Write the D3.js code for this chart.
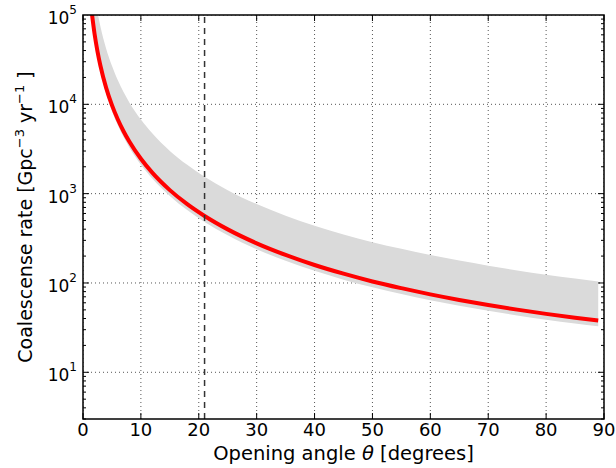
<!DOCTYPE html>
<html>
<head>
<meta charset="utf-8">
<script src="https://cdn.jsdelivr.net/npm/d3@7"></script>
<style>
  body { margin: 0; background: #fff; }
  svg { font-family: "DejaVu Sans", sans-serif; }
</style>
</head>
<body>
<div id="chart"></div>
<script>
'use strict';

/* values */
var theta = [1.5, 2, 2.5, 3, 4, 5, 6, 7, 8, 10, 12, 15, 18, 21, 25, 30, 35, 40, 45, 50, 55, 60, 65, 70, 75, 80, 85, 89];
var rate = [108800, 61200, 39200, 27200, 15300, 9800, 6810, 5000, 3830, 2455, 1707, 1095, 762, 562, 398, 278, 206, 159, 127, 104, 87.5, 74.6, 64.6, 56.7, 50.3, 45.1, 40.9, 38.0];
var rateHigh = [299000, 168000, 108000, 74800, 42000, 27000, 18700, 13700, 10500, 6750, 4700, 3010, 2100, 1545, 1095, 765, 567, 437, 349, 286, 241, 205, 178, 156, 138, 124, 112, 104];
var rateLow = [93600, 52600, 33700, 23400, 13200, 8430, 5860, 4300, 3290, 2110, 1470, 942, 655, 483, 342, 239, 177, 137, 109, 89.4, 75.3, 64.2, 55.6, 48.8, 43.3, 38.8, 35.2, 32.7];
var xTicks = [0, 10, 20, 30, 40, 50, 60, 70, 80, 90];
var yTicks = [1, 2, 3, 4, 5]; // exponents
var jetAngle = 21;

var width = 616;
var height = 468;
var margin = {left: 83, right: 12, top: 15, bottom: 49};

var x = d3.scaleLinear().domain([0, 90]).range([margin.left, width - margin.right]);
var y = d3.scaleLog().domain([3, 1e5]).range([height - margin.bottom, margin.top]);

var svg = d3.select('#chart')
  .append('svg')
  .attr('width', width)
  .attr('height', height);

svg.append('clipPath')
  .attr('id', 'clip')
  .append('rect')
  .attr('x', x(0))
  .attr('y', y(1e5))
  .attr('width', x(90) - x(0))
  .attr('height', y(3) - y(1e5));

var plot = svg.append('g').attr('clip-path', 'url(#clip)');

/* grid */
xTicks.forEach(function(t) {
  plot.append('line')
    .attr('x1', x(t)).attr('x2', x(t))
    .attr('y1', y(3)).attr('y2', y(1e5))
    .attr('stroke', '#555').attr('stroke-width', 1)
    .attr('stroke-dasharray', '1,3');
});
yTicks.forEach(function(e) {
  plot.append('line')
    .attr('x1', x(0)).attr('x2', x(90))
    .attr('y1', y(Math.pow(10, e))).attr('y2', y(Math.pow(10, e)))
    .attr('stroke', '#555').attr('stroke-width', 1)
    .attr('stroke-dasharray', '1,3');
});

var pts = theta.map(function(t, i) {
  return {t: t, mid: rate[i], hi: rateHigh[i], lo: rateLow[i]};
});

/* shaded band */
var area = d3.area()
  .x(function(d) { return x(d.t); })
  .y0(function(d) { return y(d.lo); })
  .y1(function(d) { return y(d.hi); })
  .curve(d3.curveMonotoneX);

plot.append('path')
  .datum(pts)
  .attr('d', area)
  .attr('fill', '#dadada');

/* red curve */
var line = d3.line()
  .x(function(d) { return x(d.t); })
  .y(function(d) { return y(d.mid); })
  .curve(d3.curveMonotoneX);

plot.append('path')
  .datum(pts)
  .attr('d', line)
  .attr('fill', 'none')
  .attr('stroke', '#ff0000')
  .attr('stroke-width', 4);

/* dashed vertical line */
plot.append('line')
  .attr('x1', x(jetAngle)).attr('x2', x(jetAngle))
  .attr('y1', y(3)).attr('y2', y(1e5))
  .attr('stroke', '#333').attr('stroke-width', 1.5)
  .attr('stroke-dasharray', '6,5');

/* ticks, inside, on all four sides */
var ticks = svg.append('g').attr('stroke', '#000').attr('stroke-width', 1);
xTicks.forEach(function(t) {
  ticks.append('line').attr('x1', x(t)).attr('x2', x(t)).attr('y1', y(3)).attr('y2', y(3) - 6);
  ticks.append('line').attr('x1', x(t)).attr('x2', x(t)).attr('y1', y(1e5)).attr('y2', y(1e5) + 6);
});
for (var e = 0; e <= 4; e++) {
  for (var m = 1; m <= 9; m++) {
    var v = m * Math.pow(10, e);
    if (v < 3 || v > 1e5) continue;
    var len = m === 1 ? 6 : 3;
    ticks.append('line').attr('x1', x(0)).attr('x2', x(0) + len).attr('y1', y(v)).attr('y2', y(v));
    ticks.append('line').attr('x1', x(90)).attr('x2', x(90) - len).attr('y1', y(v)).attr('y2', y(v));
  }
}

/* frame */
svg.append('rect')
  .attr('x', x(0)).attr('y', y(1e5))
  .attr('width', x(90) - x(0)).attr('height', y(3) - y(1e5))
  .attr('fill', 'none').attr('stroke', '#000').attr('stroke-width', 1.5);

/* tick labels */
xTicks.forEach(function(t) {
  svg.append('text')
    .attr('x', x(t)).attr('y', y(3) + 17)
    .attr('text-anchor', 'middle')
    .attr('font-size', 18)
    .text(t);
});
yTicks.forEach(function(e) {
  var txt = svg.append('text')
    .attr('x', 77).attr('y', y(Math.pow(10, e)) + 9)
    .attr('text-anchor', 'end')
    .attr('font-size', 17);
  txt.append('tspan').text('10');
  txt.append('tspan').attr('dy', -10).attr('font-size', 12).text(e);
});

/* axis titles */
var xl = svg.append('text')
  .attr('x', (x(0) + x(90)) / 2).attr('y', 460)
  .attr('text-anchor', 'middle')
  .attr('font-size', 19.5);
xl.append('tspan').text('Opening angle ');
xl.append('tspan').attr('font-style', 'italic').text('θ');
xl.append('tspan').text(' [degrees]');

var yl = svg.append('text')
  .attr('transform', 'translate(32,' + ((y(3) + y(1e5)) / 2) + ') rotate(-90)')
  .attr('text-anchor', 'middle')
  .attr('font-size', 19);
yl.append('tspan').text('Coalescense rate [Gpc');
yl.append('tspan').attr('dy', -8).attr('font-size', 13).text('−3');
yl.append('tspan').attr('dy', 8).text(' yr');
yl.append('tspan').attr('dy', -8).attr('font-size', 13).text('−1');
yl.append('tspan').attr('dy', 8).text(' ]');
</script>
</body>
</html>
